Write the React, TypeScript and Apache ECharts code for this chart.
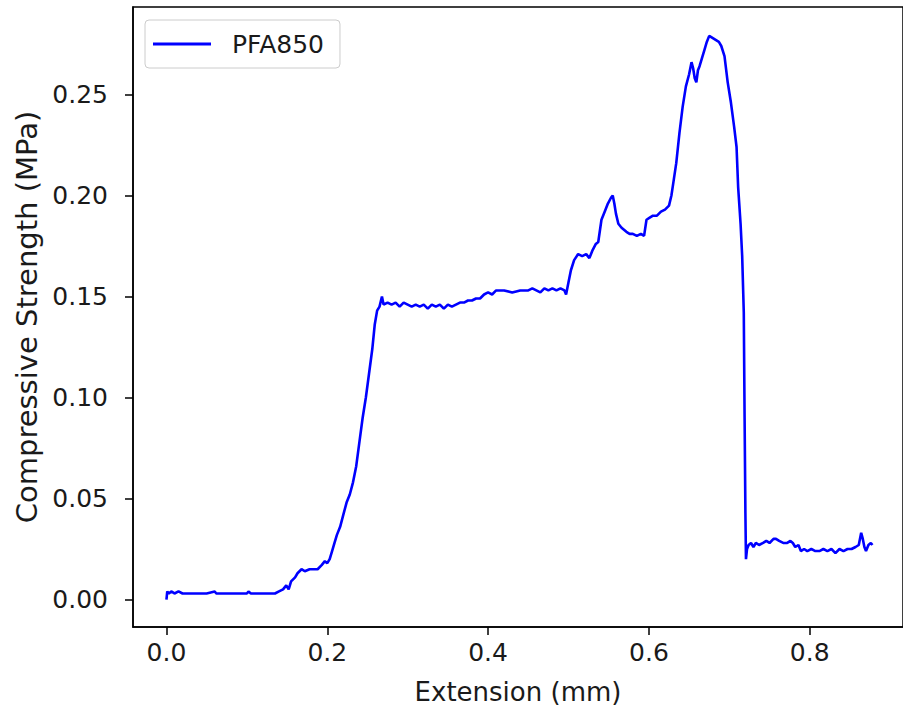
import React, { useEffect, useRef } from "react";
import * as echarts from "echarts";

const seriesName = "PFA850";
const xAxisTitle = "Extension (mm)";
const yAxisTitle = "Compressive Strength (MPa)";
const xTicks = [0, 0.2, 0.4, 0.6, 0.8];
const yTicks = [0, 0.05, 0.1, 0.15, 0.2, 0.25];

const extension = [
  0.0, 0.001, 0.003, 0.006, 0.01, 0.015, 0.02, 0.03, 0.05, 0.06, 0.062, 0.1, 0.102, 0.105, 0.135,
  0.14, 0.145, 0.149, 0.152, 0.155, 0.16, 0.163, 0.168, 0.172, 0.178, 0.183, 0.188, 0.193, 0.197,
  0.2, 0.203, 0.206, 0.209, 0.212, 0.216, 0.22, 0.224, 0.228, 0.232, 0.236, 0.24, 0.244, 0.248,
  0.252, 0.256, 0.259, 0.262, 0.265, 0.268, 0.27, 0.275, 0.28, 0.285, 0.29, 0.295, 0.3, 0.305,
  0.31, 0.315, 0.32, 0.325, 0.33, 0.335, 0.34, 0.345, 0.35, 0.355, 0.36, 0.365, 0.37, 0.375, 0.38,
  0.385, 0.39, 0.395, 0.4, 0.405, 0.41, 0.42, 0.43, 0.44, 0.45, 0.455, 0.46, 0.465, 0.47, 0.475,
  0.48, 0.485, 0.49, 0.495, 0.497, 0.5, 0.503, 0.507, 0.512, 0.517, 0.522, 0.526, 0.53, 0.534,
  0.537, 0.541, 0.545, 0.549, 0.553, 0.555, 0.557, 0.559, 0.562, 0.566, 0.572, 0.576, 0.58, 0.585,
  0.59, 0.594, 0.597, 0.601, 0.605, 0.61, 0.615, 0.62, 0.625, 0.628, 0.631, 0.634, 0.638, 0.642,
  0.646, 0.65, 0.653, 0.655, 0.657, 0.659, 0.661, 0.663, 0.666, 0.669, 0.672, 0.675, 0.679, 0.683,
  0.687, 0.69, 0.694, 0.698, 0.702, 0.706, 0.709, 0.711, 0.714, 0.716, 0.718, 0.719, 0.72, 0.7207,
  0.722, 0.724, 0.727, 0.73, 0.733, 0.737, 0.742, 0.746, 0.75, 0.755, 0.758, 0.762, 0.767, 0.772,
  0.776, 0.779, 0.782, 0.786, 0.789, 0.793, 0.797, 0.802, 0.807, 0.812, 0.817, 0.822, 0.827, 0.832,
  0.837, 0.842, 0.847, 0.852, 0.857, 0.861, 0.864, 0.866, 0.868, 0.87, 0.873, 0.876, 0.878,
];

const strength = [
  0.0, 0.004, 0.003, 0.004, 0.003, 0.004, 0.003, 0.003, 0.003, 0.004, 0.003, 0.003, 0.004, 0.003, 0.003,
  0.004, 0.005, 0.007, 0.005, 0.009, 0.011, 0.013, 0.015, 0.014, 0.015, 0.015, 0.015, 0.017, 0.019,
  0.018, 0.02, 0.024, 0.028, 0.032, 0.036, 0.042, 0.048, 0.052, 0.058, 0.066, 0.078, 0.09, 0.1,
  0.112, 0.124, 0.136, 0.143, 0.145, 0.15, 0.146, 0.147, 0.146, 0.147, 0.145, 0.147, 0.146, 0.145,
  0.146, 0.145, 0.146, 0.144, 0.146, 0.145, 0.146, 0.144, 0.146, 0.145, 0.146, 0.147, 0.147, 0.148, 0.148,
  0.149, 0.149, 0.151, 0.152, 0.151, 0.153, 0.153, 0.152, 0.153, 0.153, 0.154, 0.153, 0.152, 0.154, 0.153,
  0.154, 0.153, 0.154, 0.153, 0.151, 0.157, 0.163, 0.168, 0.171, 0.17, 0.171, 0.169, 0.173, 0.176,
  0.177, 0.188, 0.192, 0.196, 0.199, 0.2, 0.196, 0.191, 0.186, 0.184, 0.182, 0.181, 0.181, 0.18,
  0.181, 0.18, 0.188, 0.189, 0.19, 0.19, 0.192, 0.193, 0.195, 0.2, 0.208, 0.216, 0.231, 0.244,
  0.254, 0.26, 0.266, 0.263, 0.258, 0.256, 0.262, 0.264, 0.268, 0.272, 0.276, 0.279, 0.278, 0.277,
  0.276, 0.274, 0.269, 0.256, 0.246, 0.234, 0.224, 0.204, 0.186, 0.17, 0.142, 0.09, 0.043, 0.02,
  0.025, 0.027, 0.028, 0.026, 0.028, 0.027, 0.028, 0.029, 0.028, 0.03, 0.03, 0.029, 0.028, 0.028,
  0.029, 0.028, 0.026, 0.027, 0.024, 0.025, 0.024, 0.025, 0.024, 0.024, 0.025, 0.024, 0.025, 0.023,
  0.025, 0.024, 0.025, 0.025, 0.026, 0.027, 0.033, 0.03, 0.026, 0.024, 0.027, 0.028, 0.027,
];

const FONT = "DejaVu Sans";
const TEXT = "#1a1a1a";

export default function App() {
  const ref = useRef<HTMLDivElement>(null);
  useEffect(() => {
    const chart = echarts.init(ref.current!, null, { renderer: "svg" });
    const data = extension.map((x, i) => [x, strength[i]]);
    chart.setOption({
      animation: false,
      backgroundColor: "#ffffff",
      textStyle: { fontFamily: FONT },
      grid: {
        left: 133,
        right: -1,
        top: 7,
        bottom: 84,
        show: true,
        borderColor: "#000",
        borderWidth: 1.5,
        backgroundColor: "transparent",
      },
      legend: {
        left: 145,
        top: 20,
        orient: "vertical",
        padding: [11, 16, 11, 8],
        borderColor: "#cccccc",
        borderWidth: 1,
        borderRadius: 4,
        backgroundColor: "#ffffff",
        icon: "rect",
        itemWidth: 58,
        itemHeight: 3,
        itemStyle: { color: "#0000ff" },
        textStyle: {
          fontFamily: FONT,
          fontSize: 25,
          color: TEXT,
          lineHeight: 26,
          padding: [0, 0, 0, 16],
        },
        data: [seriesName],
      },
      xAxis: {
        type: "value",
        min: -0.0416,
        max: 0.916,
        splitLine: { show: false },
        axisLine: { show: true, onZero: false, lineStyle: { color: "#000", width: 1.5 } },
        axisTick: {
          show: true,
          length: 8,
          inside: false,
          lineStyle: { color: "#000", width: 1.5 },
          customValues: xTicks,
        },
        axisLabel: {
          fontFamily: FONT,
          fontSize: 25,
          color: TEXT,
          margin: 13,
          customValues: xTicks,
          formatter: (v: number) => v.toFixed(1),
        },
        name: xAxisTitle,
        nameLocation: "middle",
        nameGap: 52,
        nameTextStyle: { fontFamily: FONT, fontSize: 26, color: TEXT },
      },
      yAxis: {
        type: "value",
        min: -0.0136,
        max: 0.2933,
        splitLine: { show: false },
        axisLine: { show: true, onZero: false, lineStyle: { color: "#000", width: 1.5 } },
        axisTick: {
          show: true,
          length: 8,
          inside: false,
          lineStyle: { color: "#000", width: 1.5 },
          customValues: yTicks,
        },
        axisLabel: {
          fontFamily: FONT,
          fontSize: 25,
          color: TEXT,
          margin: 25,
          customValues: yTicks,
          formatter: (v: number) => v.toFixed(2),
        },
        name: yAxisTitle,
        nameLocation: "middle",
        nameRotate: 90,
        nameGap: 91,
        nameTextStyle: { fontFamily: FONT, fontSize: 29, color: TEXT },
      },
      series: [
        {
          name: seriesName,
          type: "line",
          data,
          symbol: "none",
          showSymbol: false,
          lineStyle: { color: "#0000ff", width: 2.6 },
          itemStyle: { color: "#0000ff" },
        },
      ],
    });
    return () => chart.dispose();
  }, []);
  return (
    <div
      ref={ref}
      style={{ position: "fixed", left: 0, top: 0, width: 903, height: 711 }}
    />
  );
}
